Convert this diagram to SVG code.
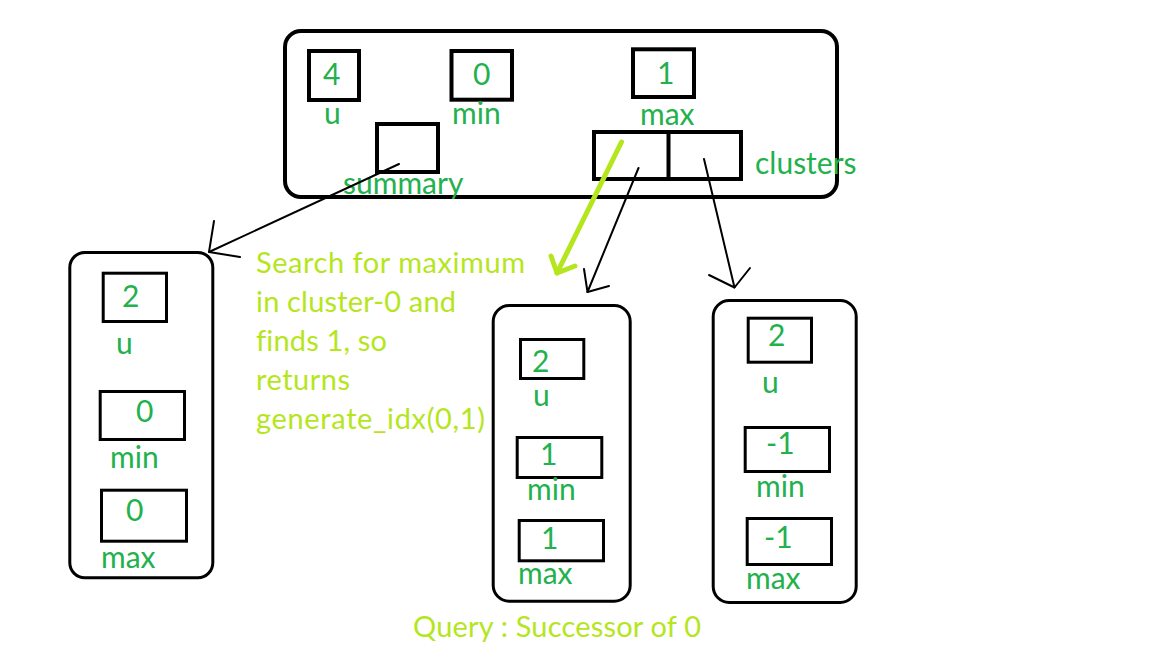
<svg xmlns="http://www.w3.org/2000/svg" width="1152" height="648" viewBox="0 0 1152 648">
<style>
.bg{fill:#fff}
.cont{fill:none;stroke:#000;stroke-width:4}
.cont3{fill:none;stroke:#000;stroke-width:3}
.box{fill:none;stroke:#000;stroke-width:4}
.box3{fill:none;stroke:#000;stroke-width:3}
.lbl{font-family:Lato,"Liberation Sans",sans-serif;font-size:30px;fill:#22B14C;font-variant-ligatures:none}
.note{font-family:Lato,"Liberation Sans",sans-serif;font-size:29px;fill:#B5E61D;font-variant-ligatures:none}
.conn{fill:none;stroke:#000;stroke-width:2;stroke-linecap:round;stroke-linejoin:round}
.lime{fill:none;stroke:#B5E61D;stroke-width:5;stroke-linecap:round;stroke-linejoin:round}
</style>
<rect class="bg" x="0" y="0" width="1152" height="648"/>

<g id="root">
<rect class="cont" x="285" y="31" width="552" height="166" rx="16"/>
<rect class="box" x="309" y="51" width="50" height="49"/>
<text class="lbl" x="323" y="85">4</text>
<text class="lbl" x="324" y="124">u</text>
<rect class="box" x="451.5" y="51" width="60.5" height="48.7"/>
<text class="lbl" x="473" y="85">0</text>
<text class="lbl" x="452" y="124">min</text>
<rect class="box" x="633" y="49.3" width="61" height="47.7"/>
<text class="lbl" x="657" y="83.5">1</text>
<text class="lbl" x="640" y="125">max</text>
<rect class="box" x="377" y="124" width="61" height="48"/>
<text class="lbl" x="343" y="194">summary</text>
<rect class="box" x="594" y="132" width="147" height="47"/>
<line class="box" x1="668.5" y1="132" x2="668.5" y2="179"/>
<text class="lbl" x="755" y="173.5">clusters</text>
</g>

<g id="summary-node">
<rect class="cont3" x="69.8" y="252.5" width="143" height="325.3" rx="15"/>
<rect class="box3" x="103.2" y="273.2" width="63.3" height="48.3"/>
<text class="lbl" x="122" y="307">2</text>
<text class="lbl" x="116" y="354">u</text>
<rect class="box3" x="100.2" y="391.5" width="84.3" height="48"/>
<text class="lbl" x="136" y="422">0</text>
<text class="lbl" x="110" y="468">min</text>
<rect class="box3" x="101.5" y="490.2" width="85" height="51"/>
<text class="lbl" x="126" y="521">0</text>
<text class="lbl" x="101" y="568">max</text>
</g>

<g id="cluster-0">
<rect class="cont3" x="493.2" y="305.5" width="137" height="295.7" rx="16"/>
<rect class="box3" x="520.5" y="339.5" width="63.3" height="39"/>
<text class="lbl" x="532" y="372">2</text>
<text class="lbl" x="533" y="406">u</text>
<rect class="box3" x="517.2" y="437.5" width="84.6" height="40"/>
<text class="lbl" x="540" y="465">1</text>
<text class="lbl" x="527" y="500">min</text>
<rect class="box3" x="519.2" y="520.5" width="84.3" height="40.3"/>
<text class="lbl" x="541" y="549">1</text>
<text class="lbl" x="518" y="584">max</text>
</g>

<g id="cluster-1">
<rect class="cont3" x="713.2" y="300.5" width="143" height="302" rx="16"/>
<rect class="box3" x="748.2" y="318.2" width="63.3" height="44"/>
<text class="lbl" x="768" y="346">2</text>
<text class="lbl" x="762" y="393">u</text>
<rect class="box3" x="745.2" y="427.5" width="84.3" height="44"/>
<text class="lbl" x="766" y="454">-1</text>
<text class="lbl" x="756" y="497">min</text>
<rect class="box3" x="747.2" y="518.5" width="84.3" height="46"/>
<text class="lbl" x="764" y="548">-1</text>
<text class="lbl" x="746" y="589">max</text>
</g>

<g id="note">
<text class="note" x="256" y="273" textLength="269">Search for maximum</text>
<text class="note" x="256" y="312" textLength="200">in cluster-0 and</text>
<text class="note" x="256" y="351" textLength="131">finds 1, so</text>
<text class="note" x="256" y="390" textLength="94">returns</text>
<text class="note" x="256" y="429" textLength="229">generate_idx(0,1)</text>
<text class="note" x="413" y="637" textLength="288">Query : Successor of 0</text>
</g>

<g id="connectors">
<line class="conn" x1="399" y1="164" x2="209" y2="252"/>
<polyline class="conn" points="214,221 209,252 240,257"/>
<line class="lime" x1="621.5" y1="142" x2="557" y2="273"/>
<polyline class="lime" points="551,256 557,273 575,266"/>
<line class="conn" x1="638.5" y1="168" x2="587.5" y2="292"/>
<polyline class="conn" points="584,269 587.5,292 609,286"/>
<line class="conn" x1="704" y1="159" x2="734.5" y2="287.5"/>
<polyline class="conn" points="709,275 734.5,287.5 750,268"/>
</g>
</svg>
